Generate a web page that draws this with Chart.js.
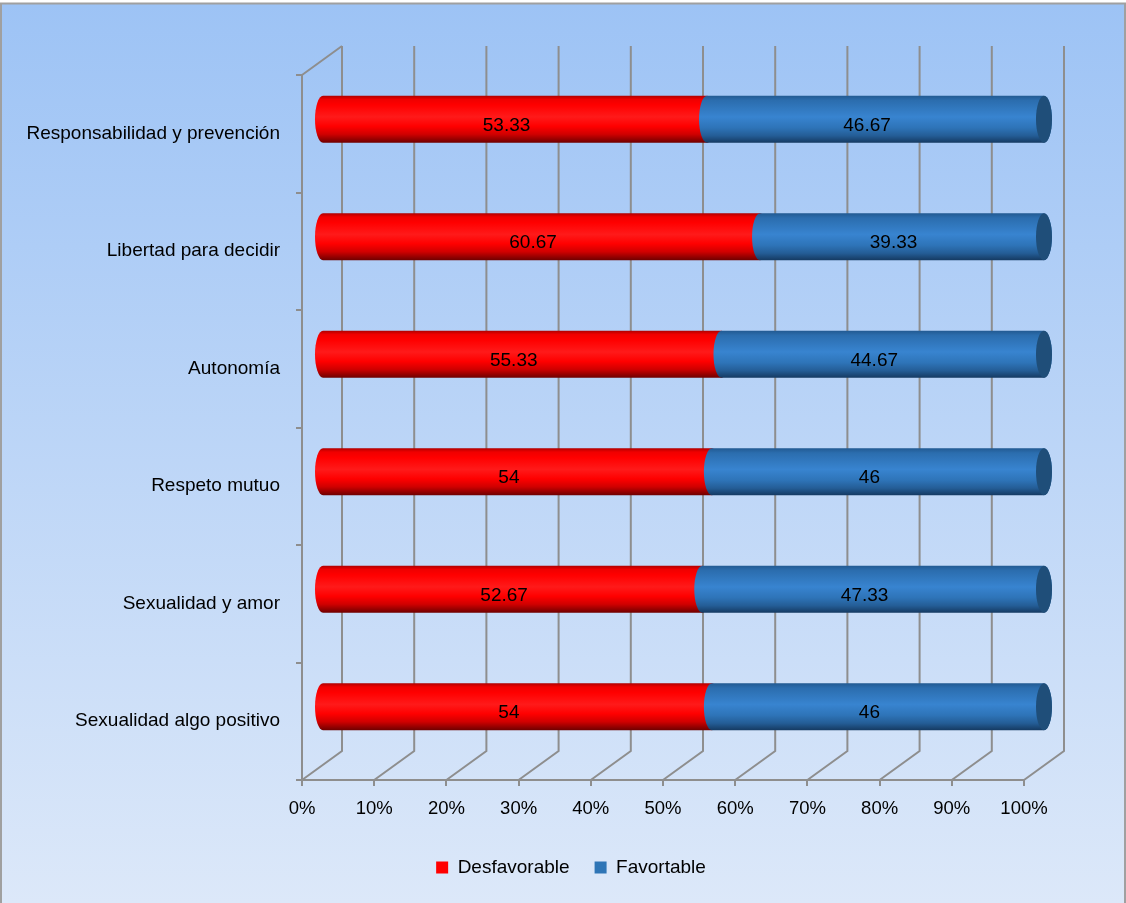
<!DOCTYPE html>
<html>
<head>
<meta charset="utf-8">
<script src="https://cdn.jsdelivr.net/npm/chart.js@4.4.1/dist/chart.umd.min.js"></script>
<style>
  html, body { margin: 0; padding: 0; background: #fff; }
  canvas { display: block; }
</style>
</head>
<body>
<canvas id="chart" width="1126" height="903"></canvas>
<script>
const categories = [
  'Responsabilidad y prevención',
  'Libertad para decidir',
  'Autonomía',
  'Respeto mutuo',
  'Sexualidad y amor',
  'Sexualidad algo positivo'
];
const desfavorable = [53.33, 60.67, 55.33, 54, 52.67, 54];
const favorable = [46.67, 39.33, 44.67, 46, 47.33, 46];
const seriesNames = ['Desfavorable', 'Favortable'];
const xTicks = [0, 10, 20, 30, 40, 50, 60, 70, 80, 90, 100];

const FONT = "'Liberation Sans', Arial, sans-serif";
const GRID = '#8E8E8E';
// depth of the fake 3D box (back wall offset from the front plane)
const DEPTH_X = 40, DEPTH_Y = -29;

const redStops = [[0, '#B00000'], [0.08, '#F00000'], [0.2, '#FF0000'], [0.45, '#FF1A1A'], [0.65, '#FF0000'], [0.82, '#D00000'], [1, '#6E0000']];
const blueStops = [[0, '#225A92'], [0.1, '#2B6DAE'], [0.45, '#3884D0'], [0.68, '#2E74B8'], [0.85, '#245D96'], [1, '#153A62']];
const capColor = '#1F4E79';

function cylinder(ctx, x0, x1, cy, h, stops, rightCap) {
  const ry = h / 2, rx = 8;
  const top = cy - ry, bot = cy + ry;
  const g = ctx.createLinearGradient(0, top, 0, bot);
  stops.forEach(([p, c]) => g.addColorStop(p, c));
  ctx.beginPath();
  ctx.moveTo(x0, top);
  ctx.lineTo(x1, top);
  ctx.ellipse(x1, cy, rx, ry, 0, -Math.PI / 2, Math.PI / 2, false);
  ctx.lineTo(x0, bot);
  ctx.ellipse(x0, cy, rx, ry, 0, Math.PI / 2, Math.PI * 1.5, false);
  ctx.closePath();
  ctx.fillStyle = g;
  ctx.fill();
  if (rightCap) {
    ctx.beginPath();
    ctx.ellipse(x1, cy, rx, ry, 0, 0, Math.PI * 2);
    ctx.fillStyle = capColor;
    ctx.fill();
  }
}

const backdrop = {
  id: 'backdrop',
  beforeDraw(chart) {
    const ctx = chart.ctx;
    const w = chart.width, h = chart.height;
    ctx.save();
    const g = ctx.createLinearGradient(0, 3, 0, h);
    g.addColorStop(0, '#9DC3F5');
    g.addColorStop(1, '#DCE8F9');
    ctx.fillStyle = g;
    ctx.fillRect(1, 3, w - 2, h - 3);
    ctx.strokeStyle = '#A0A0A0';
    ctx.lineWidth = 2;
    ctx.beginPath();
    ctx.moveTo(1, h);
    ctx.lineTo(1, 3.5);
    ctx.lineTo(w - 1, 3.5);
    ctx.lineTo(w - 1, h);
    ctx.stroke();
    ctx.restore();
  }
};

const cylinders = {
  id: 'cylinders',
  beforeDatasetsDraw(chart) {
    const ctx = chart.ctx;
    const xs = chart.scales.x;
    const area = chart.chartArea;
    ctx.save();

    // back wall gridlines and floor diagonals
    ctx.strokeStyle = GRID;
    ctx.lineWidth = 2;
    ctx.beginPath();
    xs.ticks.forEach(t => {
      const fx = xs.getPixelForValue(t.value);
      ctx.moveTo(fx + DEPTH_X, area.top + DEPTH_Y);
      ctx.lineTo(fx + DEPTH_X, area.bottom + DEPTH_Y);
      ctx.lineTo(fx, area.bottom);
    });
    ctx.moveTo(area.left, area.top);
    ctx.lineTo(area.left + DEPTH_X, area.top + DEPTH_Y);
    ctx.stroke();

    // bars sit halfway into the box
    const dx = DEPTH_X / 2, dy = DEPTH_Y / 2;
    const stops = [redStops, blueStops];
    const n = chart.data.datasets.length;
    for (let d = 0; d < n; d++) {
      const meta = chart.getDatasetMeta(d);
      meta.data.forEach(el => {
        const p = el.getProps(['x', 'y', 'base', 'height'], true);
        cylinder(ctx, p.base + dx, p.x + dx, p.y + dy, p.height, stops[d], d === n - 1);
      });
    }

    // value labels
    ctx.fillStyle = '#000';
    ctx.font = '19px ' + FONT;
    ctx.textAlign = 'center';
    ctx.textBaseline = 'middle';
    for (let d = 0; d < n; d++) {
      const meta = chart.getDatasetMeta(d);
      const vals = chart.data.datasets[d].data;
      meta.data.forEach((el, i) => {
        const p = el.getProps(['x', 'y', 'base'], true);
        ctx.fillText(String(vals[i]), (p.base + p.x) / 2 + 11.5, p.y - 8);
      });
    }
    ctx.restore();
    return false;
  }
};

new Chart(document.getElementById('chart'), {
  type: 'bar',
  data: {
    labels: categories,
    datasets: [
      { label: seriesNames[0], data: desfavorable, backgroundColor: '#FF0000', borderWidth: 0 },
      { label: seriesNames[1], data: favorable, backgroundColor: '#2E75B6', borderWidth: 0 }
    ]
  },
  options: {
    indexAxis: 'y',
    responsive: false,
    animation: false,
    devicePixelRatio: 1,
    barPercentage: 0.4,
    categoryPercentage: 1,
    layout: { padding: { left: 16, right: 0, top: 75, bottom: 16 } },
    scales: {
      x: {
        type: 'linear',
        stacked: true,
        min: 0,
        max: 100,
        afterBuildTicks: s => { s.ticks = xTicks.map(v => ({ value: v })); },
        afterFit: s => { s.height = 53; },
        ticks: {
          color: '#000',
          font: { family: FONT, size: 18.5 },
          padding: 12,
          maxRotation: 0,
          callback: v => v + '%'
        },
        grid: { drawOnChartArea: false, tickLength: 6, color: GRID, lineWidth: 2 },
        border: { color: GRID, width: 2 }
      },
      y: {
        stacked: true,
        afterFit: s => { s.width = 286; },
        ticks: {
          color: '#000',
          font: { family: FONT, size: 19 },
          padding: 16
        },
        grid: { drawOnChartArea: false, tickLength: 6, color: GRID, lineWidth: 2 },
        border: { color: GRID, width: 2 }
      },
      // empty right-hand axis that only reserves the space behind the box
      yRight: {
        type: 'category',
        position: 'right',
        afterFit: s => { s.width = 102; },
        ticks: { display: false },
        grid: { display: false },
        border: { display: false }
      }
    },
    plugins: {
      legend: {
        position: 'bottom',
        labels: {
          color: '#000',
          font: { family: FONT, size: 19 },
          boxWidth: 12,
          boxHeight: 12,
          padding: 25
        }
      },
      tooltip: { enabled: false }
    }
  },
  plugins: [backdrop, cylinders]
});
</script>
</body>
</html>
